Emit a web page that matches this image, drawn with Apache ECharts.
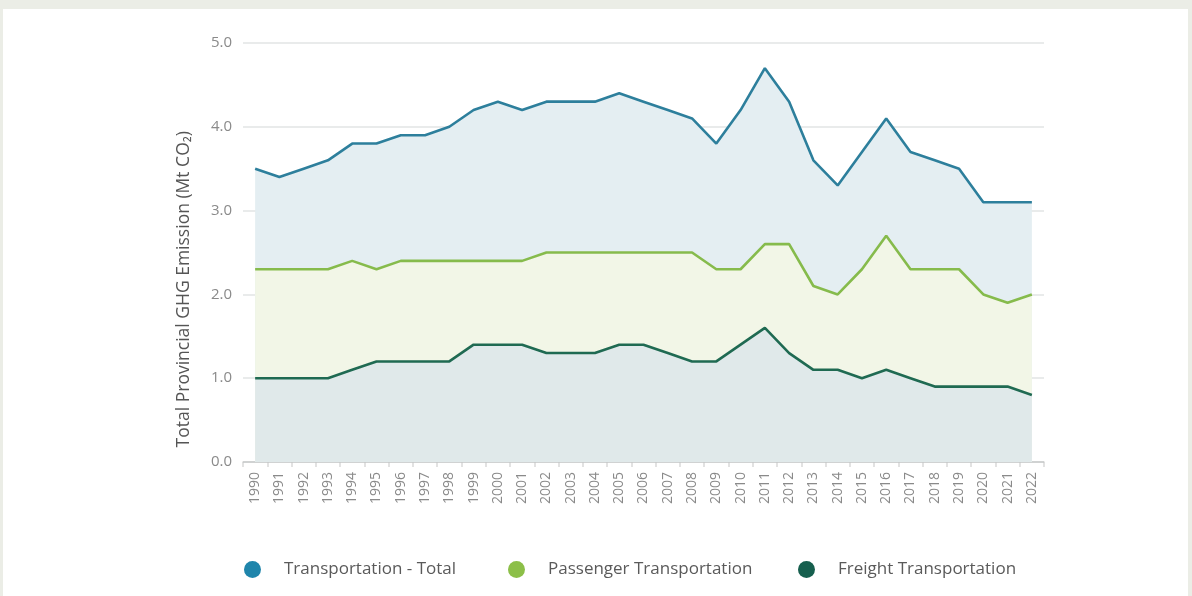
<!DOCTYPE html>
<html>
<head>
<meta charset="utf-8">
<script src="https://cdn.jsdelivr.net/npm/echarts@6/dist/echarts.min.js"></script>
<style>
html,body{margin:0;padding:0;width:1192px;height:596px;background:#ebede6;overflow:hidden;}
#panel{position:absolute;left:3px;top:9px;width:1185px;height:587px;background:#ffffff;}
#chart{position:absolute;left:0;top:0;width:1192px;height:596px;}
</style>
</head>
<body>
<div id="panel"></div>
<div id="chart"></div>
<script>
const years = ['1990','1991','1992','1993','1994','1995','1996','1997','1998','1999','2000','2001','2002','2003','2004','2005','2006','2007','2008','2009','2010','2011','2012','2013','2014','2015','2016','2017','2018','2019','2020','2021','2022'];
const totalTransport = [3.5,3.4,3.5,3.6,3.8,3.8,3.9,3.9,4.0,4.2,4.3,4.2,4.3,4.3,4.3,4.4,4.3,4.2,4.1,3.8,4.2,4.7,4.3,3.6,3.3,3.7,4.1,3.7,3.6,3.5,3.1,3.1,3.1];
const passenger = [2.3,2.3,2.3,2.3,2.4,2.3,2.4,2.4,2.4,2.4,2.4,2.4,2.5,2.5,2.5,2.5,2.5,2.5,2.5,2.3,2.3,2.6,2.6,2.1,2.0,2.3,2.7,2.3,2.3,2.3,2.0,1.9,2.0];
const freight = [1.0,1.0,1.0,1.0,1.1,1.2,1.2,1.2,1.2,1.4,1.4,1.4,1.3,1.3,1.3,1.4,1.4,1.3,1.2,1.2,1.4,1.6,1.3,1.1,1.1,1.0,1.1,1.0,0.9,0.9,0.9,0.9,0.8];
const yTicks = ['0.0','1.0','2.0','3.0','4.0','5.0'];
const seriesNames = ['Transportation - Total','Passenger Transportation','Freight Transportation'];
const yAxisTitle = 'Total Provincial GHG Emission (Mt CO₂)';

const chart = echarts.init(document.getElementById('chart'), null, {renderer:'canvas'});
const font = '"Open Sans", "DejaVu Sans", sans-serif';
function mk(name, data, lineColor, fillColor, legendColor){
  return {
    name: name, type: 'line', data: data, symbol: 'none',
    itemStyle: {color: legendColor},
    lineStyle: {color: lineColor, width: 2.6},
    areaStyle: {color: fillColor, opacity: 1},
    emphasis: {disabled: true}
  };
}
const legendLefts = [239, 503, 793];
function lg(i){
  return {
    left: legendLefts[i], top: 556,
    icon: 'circle', itemWidth: 17, itemHeight: 17,
    textStyle: {color: '#5a5a5a', fontSize: 17, fontFamily: font, padding: [0,0,0,18]},
    data: [seriesNames[i]]
  };
}
chart.setOption({
  backgroundColor: 'transparent',
  animation: false,
  grid: {left: 243, right: 148, top: 43, bottom: 134},
  legend: [lg(0), lg(1), lg(2)],
  xAxis: {
    type: 'category', data: years, boundaryGap: true,
    axisLine: {show: true, lineStyle: {color: '#d9d9d9', width: 1.5}},
    axisTick: {show: true, length: 5, lineStyle: {color: '#d9d9d9', width: 1.5}},
    axisLabel: {rotate: 90, color: '#8a8a8a', fontSize: 14, fontFamily: font, margin: 10, interval: 0}
  },
  yAxis: {
    type: 'value', min: 0, max: 5, interval: 1, z: 3,
    axisLine: {show: false}, axisTick: {show: false},
    axisLabel: {color: '#8a8a8a', fontSize: 15, fontFamily: font, margin: 11,
      formatter: function(v){ return yTicks[Math.round(v)]; }},
    splitLine: {lineStyle: {color: 'rgba(120,130,130,0.16)', width: 2}}
  },
  graphic: [{
    type: 'text', left: 175, top: 131, rotation: Math.PI/2,
    style: {text: yAxisTitle, fill: '#555', font: '17.5px ' + font}
  }],
  series: [
    mk(seriesNames[0], totalTransport, '#2d7f9c', '#e4eef2', '#1f85ab'),
    mk(seriesNames[1], passenger, '#86bb4c', '#f2f6e7', '#8cbf48'),
    mk(seriesNames[2], freight, '#1f6a52', '#e0e9ea', '#165f4e')
  ]
});
</script>
</body>
</html>
